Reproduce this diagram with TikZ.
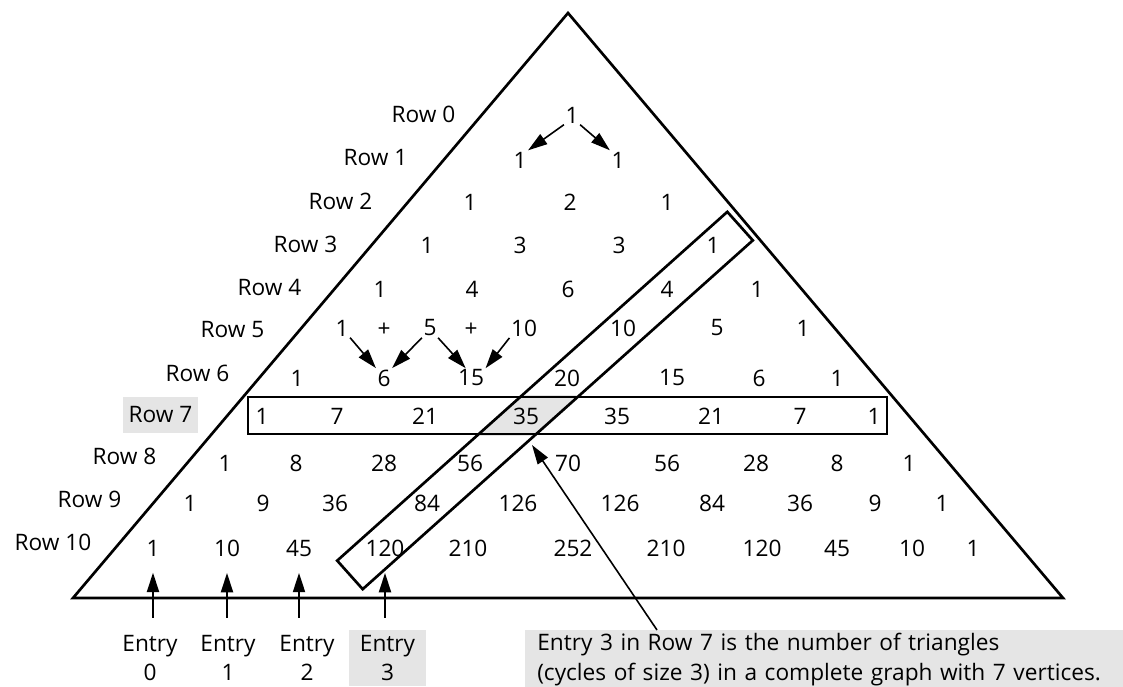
\documentclass[tikz,border=0pt]{standalone}
\usepackage{fontspec}
\setmainfont{Open Sans}
\usetikzlibrary{arrows.meta, calc, backgrounds}

\begin{document}
\begin{tikzpicture}[
  x=0.75pt, y=-0.75pt,
  every node/.style={font=\fontsize{17}{22}\selectfont},
  num/.style={inner sep=1pt},
  rowlbl/.style={anchor=east, inner xsep=4pt, inner ysep=7pt},
  hilite/.style={fill=black!10},
  entrylbl/.style={align=center, inner xsep=8pt, inner ysep=3pt, minimum height=42pt},
  frame/.style={draw, line width=2pt, inner sep=0pt},
  arr/.style={-{Triangle[length=14.5pt, width=9pt]}, line width=1.2pt}
]
  \useasboundingbox (0,0) rectangle (1123,686);
  % Outer triangle
  \draw[line width=2pt] (568,13) -- (1063,598) -- (73,598) -- cycle;

  % Row labels
  \foreach \n/\x/\y in {0/461/114, 1/413/158, 2/378/201, 3/343/244, 4/307/287,
                        5/270/330, 6/235/373, 8/162/456, 9/127/499, 10/97/542}
    \node[rowlbl] (row\n) at (\x,\y) {Row \n};
  \node[rowlbl, hilite] (row7) at (198,415) {Row 7};

  % Entries of the triangle
  \foreach \x/\v [count=\i] in {572/1}
    \node[num] (r0c\i) at (\x,115) {\v};
  \foreach \x/\v [count=\i] in {520/1, 618/1}
    \node[num] (r1c\i) at (\x,160) {\v};
  \foreach \x/\v [count=\i] in {470/1, 570/2, 667/1}
    \node[num] (r2c\i) at (\x,202) {\v};
  \foreach \x/\v [count=\i] in {427/1, 520/3, 619/3, 713/1}
    \node[num] (r3c\i) at (\x,245) {\v};
  \foreach \x/\v [count=\i] in {380/1, 472/4, 568/6, 667/4, 757/1}
    \node[num] (r4c\i) at (\x,289) {\v};
  \foreach \x/\v [count=\i] in {342/1, 430/5, 524/10, 623/10, 717/5, 803/1}
    \node[num] (r5c\i) at (\x,328) {\v};
  \foreach \x/\v [count=\i] in {297/1, 384/6, 471/15, 567/20, 672/15, 759/6, 837/1}
    \node[num] (r6c\i) at (\x,378) {\v};
  \foreach \x/\v [count=\i] in {262/1, 337/7, 425/21, 526/35, 617/35, 711/21, 800/7, 874/1}
    \node[num] (r7c\i) at (\x,416) {\v};
  \foreach \x/\v [count=\i] in {225/1, 296/8, 384/28, 470/56, 568/70, 667/56, 756/28, 837/8, 909/1}
    \node[num] (r8c\i) at (\x,463) {\v};
  \foreach \x/\v [count=\i] in {190/1, 263/9, 335/36, 427/84, 518/126, 620/126, 712/84, 800/36, 875/9, 942/1}
    \node[num] (r9c\i) at (\x,503) {\v};
  \foreach \x/\v [count=\i] in {153/1, 227/10, 299/45, 385/120, 468/210, 573/252, 666/210, 762/120, 837/45, 912/10, 973/1}
    \node[num] (r10c\i) at (\x,548) {\v};
  \node[num] (plusA) at (384,330) {+};
  \node[num] (plusB) at (471,330) {+};

  % Sum arrows
  \draw[arr] (r0c1.south west) -- (r1c1.north east);
  \draw[arr] (r0c1.south east) -- (r1c2.north west);
  \draw[arr] (r5c1.south east) -- (r6c2.north west);
  \draw[arr] (r5c2.south west) -- (r6c2.north east);
  \draw[arr] (r5c2.south east) -- ([xshift=-4pt]r6c3.north);
  \draw[arr] (r5c3.south west) -- (r6c3.north east);

  % Row 7 and diagonal frames
  \node[frame, minimum width=479.25pt, minimum height=27.75pt] (r7box) at (567.5,415.5) {};
  \node[frame, rotate=41.8, minimum width=392.5pt, minimum height=28.7pt] (diagbox) at (545,400.5) {};
  \begin{scope}[on background layer]
    \clip (r7box.south west) rectangle (r7box.north east);
    \fill[black!10] (diagbox.north west) -- (diagbox.north east)
      -- (diagbox.south east) -- (diagbox.south west) -- cycle;
  \end{scope}

  % Entry labels below
  \foreach \k/\x in {0/150, 1/228, 2/307}
    \node[entrylbl] (e\k) at (\x,658) {Entry\\\k};
  \node[entrylbl, hilite] (e3) at (387.5,658) {Entry\\3};
  \foreach \k/\j in {0/1, 1/2, 2/3, 3/4}
    \draw[arr, line width=1.5pt] ($(r10c\j |- e\k.north)+(0,-12)$) -- ($(r10c\j.south)+(0,15)$);

  % Callout
  \node[hilite, anchor=north west, align=left, text width=432pt, inner xsep=9pt,
        inner ysep=2pt, minimum height=42pt, font=\fontsize{17}{22.5}\selectfont] (note) at (525,630)
    {Entry 3 in Row 7 is the number of triangles\\(cycles of size 3) in a complete graph with 7 vertices.};
  \coordinate (hit) at (532,445);
  \draw[arr] ($(note.north west)+(132,0)$) -- (hit);
\end{tikzpicture}
\end{document}
